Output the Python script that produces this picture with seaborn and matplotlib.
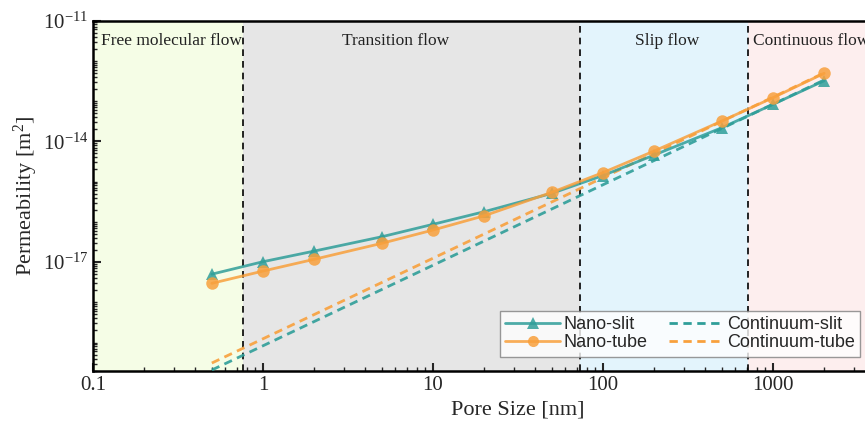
import numpy as np
import pandas as pd
import matplotlib
matplotlib.use("Agg")
import matplotlib.pyplot as plt
import seaborn as sns
from matplotlib.ticker import LogLocator, FixedLocator, NullFormatter

# pore sizes [nm] and permeability [m^2]
pore_size = [0.5, 1, 2, 5, 10, 20, 50, 100, 200, 500, 1000, 2000]
nano_slit = [5.0e-18, 1.02e-17, 1.87e-17, 4.25e-17, 8.65e-17, 1.78e-16,
             5.09e-16, 1.41e-15, 4.55e-15, 2.17e-14, 8.28e-14, 3.19e-13]
nano_tube = [2.96e-18, 5.97e-18, 1.17e-17, 2.92e-17, 6.24e-17, 1.41e-16,
             5.39e-16, 1.67e-15, 5.73e-15, 3.18e-14, 1.21e-13, 4.88e-13]

# continuum lines (straight on log-log), end points
cont_size = [0.5, 2000]
cont_slit = [2.08e-20, 3.33e-13]
cont_tube = [3.1e-20, 5.0e-13]

# flow regime boundaries [nm] and labels
regime_edges = [0.1, 0.766, 73, 716, 1e4]
regime_names = ["Free molecular flow", "Transition flow", "Slip flow", "Continuous flow"]
regime_colors = ["#f5fde6", "#e6e6e6", "#e3f4fc", "#fdeeee"]

TEAL = "#2f9e99"
ORANGE = "#f8a03c"

sns.set_style("ticks")
plt.rcParams["font.family"] = ["Liberation Serif", "DejaVu Serif"]
plt.rcParams["mathtext.fontset"] = "custom"
plt.rcParams["mathtext.rm"] = "Liberation Serif"
plt.rcParams["mathtext.it"] = "Liberation Serif:italic"

fig = plt.figure(figsize=(8.65, 4.26), dpi=100)
ax = fig.add_axes([93 / 865, 55.3 / 426, 850 / 865, 350.2 / 426])

# regime shading and boundaries
for i, name in enumerate(regime_names):
    ax.axvspan(regime_edges[i], regime_edges[i + 1], color=regime_colors[i], zorder=0, lw=0)
for edge in regime_edges[1:-1]:
    ax.axvline(edge, color="black", ls=(0, (4, 3)), lw=1.2, zorder=1)

label_pos = [(0.111, "left"), (6.0, "center"), (238, "center"), (760, "left")]
for (xp, ha), name in zip(label_pos, regime_names):
    ax.text(xp, 10 ** -11.5, name, ha=ha, va="center", fontsize=12.5, color="#222222")

df_nano = pd.DataFrame({
    "size": pore_size * 2,
    "k": nano_slit + nano_tube,
    "kind": ["Nano-slit"] * len(pore_size) + ["Nano-tube"] * len(pore_size),
})
df_cont = pd.DataFrame({
    "size": cont_size * 2,
    "k": cont_slit + cont_tube,
    "kind": ["Continuum-slit"] * 2 + ["Continuum-tube"] * 2,
})

sns.lineplot(data=df_cont, x="size", y="k", hue="kind", palette=[TEAL, ORANGE],
             ax=ax, lw=2, dashes=False, legend=False, zorder=3)
for line in ax.lines[-2:]:
    line.set_linestyle((0, (3, 2)))
    line.set_alpha(0.9)

sns.lineplot(data=df_nano, x="size", y="k", hue="kind", style="kind",
             palette=[TEAL, ORANGE], markers=["^", "o"], dashes=False,
             ax=ax, lw=2, markersize=9, markeredgewidth=0, alpha=0.85,
             legend=False, zorder=4)

ax.set_xscale("log")
ax.set_yscale("log")
ax.set_xlim(0.1, 1e4)
ax.set_ylim(2e-20, 1e-11)

ax.set_xticks([0.1, 1, 10, 100, 1000])
ax.set_xticklabels(["0.1", "1", "10", "100", "1000"])
ax.xaxis.set_minor_locator(LogLocator(base=10, subs=np.arange(2, 10)))
ax.xaxis.set_minor_formatter(NullFormatter())

ax.yaxis.set_major_locator(FixedLocator([1e-17, 1e-14, 1e-11]))
ax.set_yticklabels([r"$10^{-17}$", r"$10^{-14}$", r"$10^{-11}$"])
ax.yaxis.set_minor_locator(LogLocator(base=10, subs=np.arange(1, 10), numticks=30))
ax.yaxis.set_minor_formatter(NullFormatter())

ax.tick_params(axis="both", which="major", direction="in", length=6, width=1.5,
               labelsize=15, top=False, right=False)
ax.tick_params(axis="both", which="minor", direction="in", length=3, width=1.0,
               top=False, right=False)
for side in ["left", "bottom", "top", "right"]:
    ax.spines[side].set_linewidth(1.8)
    ax.spines[side].set_color("black")

ax.set_xlabel("Pore Size [nm]", fontsize=16, labelpad=4)
ax.set_ylabel(r"Permeability [m$^2$]", fontsize=16, labelpad=2)

handles = [
    plt.Line2D([], [], color=TEAL, marker="^", lw=2, ms=8, mew=0, alpha=0.85),
    plt.Line2D([], [], color=ORANGE, marker="o", lw=2, ms=8, mew=0, alpha=0.85),
    plt.Line2D([], [], color=TEAL, ls=(0, (3, 2)), lw=2),
    plt.Line2D([], [], color=ORANGE, ls=(0, (3, 2)), lw=2),
]
labels = ["Nano-slit", "Nano-tube", "Continuum-slit", "Continuum-tube"]
leg = ax.legend(handles, labels, ncol=2, loc="upper right",
                bbox_to_anchor=(860 / 865, 1 - 311 / 426), bbox_transform=fig.transFigure,
                borderaxespad=0, frameon=True, fancybox=False, handlelength=3.0,
                handletextpad=0.2, columnspacing=1.2, labelspacing=0.05,
                borderpad=0.3, prop={"family": "Liberation Sans", "size": 13})
leg.get_frame().set_edgecolor("#808080")
leg.get_frame().set_linewidth(1.0)
leg.set_zorder(10)

fig.savefig("out.png", dpi=100)
